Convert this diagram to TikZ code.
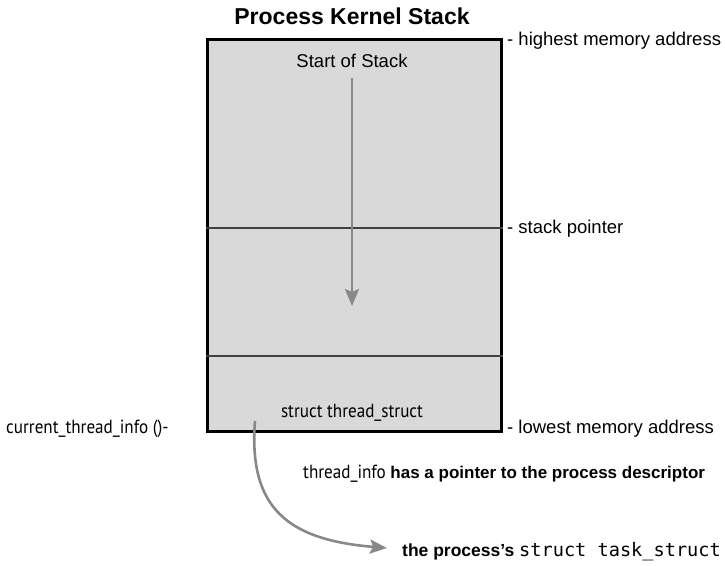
\documentclass[tikz,border=0pt]{standalone}
\usepackage{fontspec}
\setmainfont{Liberation Sans}
\newfontfamily\condfont{PT Sans}[FakeStretch=0.9]
\newfontfamily\codefont{DejaVu Sans Mono}
\usetikzlibrary{arrows.meta}
\definecolor{stackfill}{HTML}{D9D9D9}
\definecolor{divline}{HTML}{404040}
\definecolor{arrowgray}{HTML}{888888}
\begin{document}
\begin{tikzpicture}[x=1pt,y=-1pt,
  lbl/.style={inner sep=0pt, anchor=base west, font=\fontsize{18.5}{22}\selectfont},
  ctr/.style={inner sep=0pt, anchor=base, font=\fontsize{18.5}{22}\selectfont},
  cond/.style={inner sep=0pt, font=\condfont\fontsize{19}{22}\selectfont},
  divider/.style={draw=divline, line width=1.8pt},
  grayarrow/.style={draw=arrowgray, line width=2.6pt,
    -{Stealth[length=17pt, width=14pt, inset=3pt, fill=arrowgray]}}]
\useasboundingbox (0,0) rectangle (725,565);
% stack box
\node[draw=black, line width=3pt, fill=stackfill, minimum width=294pt,
  minimum height=392pt, inner sep=0pt, anchor=north west] (stack) at (205.5,38) {};
% dividers
\coordinate (spy) at (0,228);
\coordinate (tiy) at (0,356);
\draw[divider] (stack.west |- spy) -- (stack.east |- spy);
\draw[divider] (stack.west |- tiy) -- (stack.east |- tiy);
% title
\node[inner sep=0pt, anchor=base, font=\bfseries\fontsize{23}{27}\selectfont] (title) at (352,24) {Process Kernel Stack};
% inside texts
\node[ctr] (start) at (352,67) {Start of Stack};
\node[cond, anchor=base] (thread) at (352,417) {struct thread\_struct};
% right labels
\node[lbl] (highest) at (507,45) {- highest memory address};
\node[lbl] (sptr) at (507,233) {- stack pointer};
\node[lbl] (lowest) at (507,433) {- lowest memory address};
% left label
\node[cond, anchor=base west] (cti) at (6,433) {current\_thread\_info ()-};
% bottom texts
\node[inner sep=0pt, anchor=base west] (pointer) at (303,478)
  {{\condfont\fontsize{19}{22}\selectfont thread\_info }{\bfseries\fontsize{17}{22}\selectfont has a pointer to the process descriptor}};
\node[inner sep=0pt, anchor=base west] (task) at (402,556)
  {{\bfseries\fontsize{17.5}{22}\selectfont the process’s }{\codefont\fontsize{18.6}{22}\selectfont struct task\_struct}};
% arrows
\coordinate (sptip) at (352,306);
\draw[grayarrow, shorten <=11pt] (start.south) -- (sptip);
\coordinate (tsrc) at (255,421);
\coordinate (ttip) at (387,548);
\draw[grayarrow] (tsrc) .. controls (248,510) and (290,540) .. (ttip);
\end{tikzpicture}
\end{document}
